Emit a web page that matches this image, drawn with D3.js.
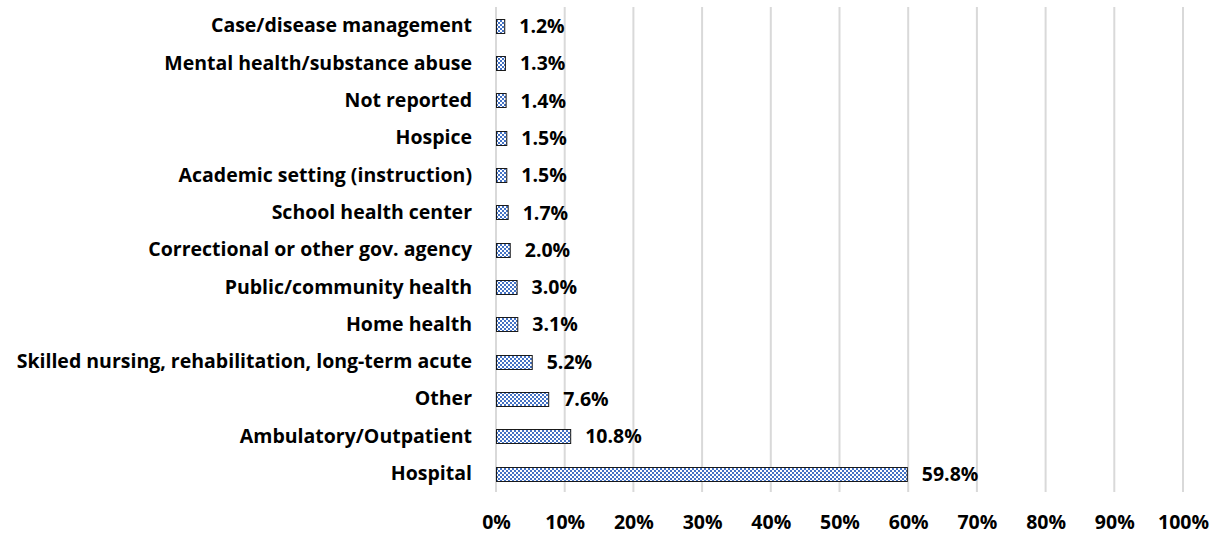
<!DOCTYPE html>
<html>
<head>
<meta charset="utf-8">
<script src="https://cdn.jsdelivr.net/npm/d3@7"></script>
<style>
  html, body { margin: 0; padding: 0; background: #fff; }
  svg { display: block; }
  text { font-family: "Open Sans", Lato, sans-serif; font-weight: 700; fill: #000; }
</style>
</head>
<body>
<svg id="chart" width="1215" height="537"></svg>
<script>
// Practice settings, listed top to bottom as drawn
const categories = [
  "Case/disease management",
  "Mental health/substance abuse",
  "Not reported",
  "Hospice",
  "Academic setting (instruction)",
  "School health center",
  "Correctional or other gov. agency",
  "Public/community health",
  "Home health",
  "Skilled nursing, rehabilitation, long-term acute",
  "Other",
  "Ambulatory/Outpatient",
  "Hospital"
];
const shares = [1.2, 1.3, 1.4, 1.5, 1.5, 1.7, 2.0, 3.0, 3.1, 5.2, 7.6, 10.8, 59.8];
const tickValues = [0, 10, 20, 30, 40, 50, 60, 70, 80, 90, 100];

const FONT = '"Open Sans", Lato, sans-serif';
const FS = 19.5;

const svg = d3.select("#chart");
const plot = { left: 496, right: 1183, top: 7, bottom: 492 };

const x = d3.scaleLinear().domain([0, 100]).range([plot.left, plot.right]);
const y = d3.scaleBand().domain(categories).range([plot.top, plot.bottom]).paddingInner(0.635).paddingOuter(0.3175);

// Small checkerboard fill
const defs = svg.append("defs");
const pat = defs.append("pattern")
  .attr("id", "checker")
  .attr("patternUnits", "userSpaceOnUse")
  .attr("width", 4).attr("height", 4);
pat.append("rect").attr("width", 4).attr("height", 4).attr("fill", "#ffffff");
pat.append("rect").attr("width", 2).attr("height", 2).attr("fill", "#4472c4");
pat.append("rect").attr("x", 2).attr("y", 2).attr("width", 2).attr("height", 2).attr("fill", "#4472c4");

// Vertical gridlines
svg.append("g")
  .selectAll("line")
  .data(tickValues)
  .join("line")
  .attr("x1", d => x(d)).attr("x2", d => x(d))
  .attr("y1", plot.top).attr("y2", plot.bottom)
  .attr("stroke", "#d9d9d9")
  .attr("stroke-width", 2);

// X axis tick labels
const xAxis = d3.axisBottom(x).tickValues(tickValues).tickFormat(d => d + "%").tickSize(0).tickPadding(0);
const gx = svg.append("g").attr("transform", `translate(0, 529)`).call(xAxis);
gx.select(".domain").remove();
gx.selectAll("text")
  .attr("font-size", FS)
  .attr("font-family", FONT)
  .attr("font-weight", 700)
  .attr("y", 0)
  .attr("dy", 0);

// Category labels
const yAxis = d3.axisLeft(y).tickSize(0).tickPadding(0);
const gy = svg.append("g").attr("transform", `translate(${plot.left - 24}, 0.5)`).call(yAxis);
gy.select(".domain").remove();
gy.selectAll("text")
  .attr("font-size", FS)
  .attr("font-family", FONT)
  .attr("font-weight", 700);

// Bars
svg.append("g")
  .selectAll("rect")
  .data(shares)
  .join("rect")
  .attr("x", x(0) + 0.5)
  .attr("y", (d, i) => Math.round(y(categories[i])) + 0.5)
  .attr("width", d => x(d) - x(0))
  .attr("height", Math.round(y.bandwidth()))
  .attr("fill", "url(#checker)")
  .attr("stroke", "#1a1a1a")
  .attr("stroke-width", 1);

// Value labels
svg.append("g")
  .selectAll("text")
  .data(shares)
  .join("text")
  .attr("x", d => x(d) + 15)
  .attr("y", (d, i) => y(categories[i]) + y.bandwidth() / 2 + 0.5)
  .attr("dy", "0.35em")
  .attr("font-size", FS)
  .text(d => d.toFixed(1) + "%");
</script>
</body>
</html>
